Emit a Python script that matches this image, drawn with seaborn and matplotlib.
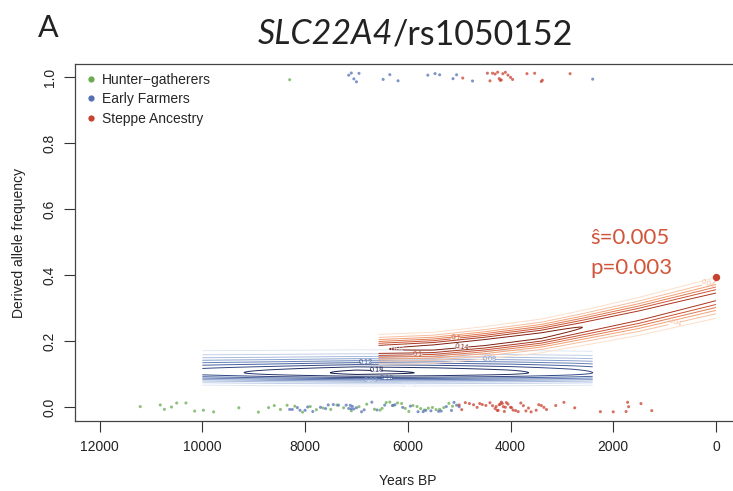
import numpy as np
import pandas as pd
import matplotlib
matplotlib.use("Agg")
import matplotlib.pyplot as plt
import seaborn as sns
from matplotlib.colors import LinearSegmentedColormap, Normalize
from matplotlib.lines import Line2D

# ---------------- sample data (years BP, derived allele 0/1) ----------------
hg_bottom = [11210, 10820, 10740, 10600, 10500, 10320, 10150, 9980, 9780,
             9290, 8910, 8710, 8600, 8480, 8350, 8200, 8050, 7900, 7780, 7650,
             7500, 7380, 7250, 7100, 6950, 6800, 6650, 6540, 6500, 6420, 6350,
             6280, 6200, 6120, 6050, 5980, 5900, 5820, 5750, 5680, 5600, 5520,
             5450, 5380, 5300, 5200, 5130]
ef_bottom = [8300, 8250, 8150, 8100, 8000, 7950, 7850, 7700, 7600, 7550,
             7450, 7350, 7200, 7150, 7120, 7100, 7080, 7050, 7000, 6900, 6850,
             6700, 6600, 6450, 6300, 6250, 6100, 5950, 5800, 5700, 5650, 5550,
             5400, 5350, 5250, 5150, 5100, 5050, 5000]
st_bottom = [5000, 4950, 4880, 4800, 4720, 4650, 4600, 4550, 4480, 4400,
             4350, 4300, 4280, 4260, 4240, 4220, 4200, 4180, 4160, 4140, 4120,
             4100, 4080, 4050, 4000, 3980, 3950, 3900, 3850, 3800, 3750, 3700,
             3650, 3600, 3500, 3450, 3400, 3350, 3300, 3120, 2960, 2750, 2250,
             2000, 1750, 1720, 1700, 1460, 1250]
hg_top = [8300]
ef_top = [7150, 7100, 7050, 7000, 6950, 6480, 6350, 6190, 5610, 5470, 5380,
          5120, 5050, 4740, 2400]
st_top = [4930, 4450, 4400, 4350, 4300, 4250, 4220, 4200, 4180, 4150, 4100,
          4050, 4000, 3960, 3680, 3530, 3400, 3380, 2840]

groups = ["Hunter\u2212gatherers", "Early Farmers", "Steppe Ancestry"]
colors = ["#6aab4f", "#5470b5", "#c9412f"]

# present-day frequency
present_year = [0]
present_freq = [0.395]

# ---------------- posterior density surfaces (anchors) -----
ef_t = [2400, 2800, 4000, 5500, 7000, 8700, 10000]
ef_peak = [0.140, 0.148, 0.165, 0.178, 0.186, 0.166, 0.150]
ef_mean = [0.104, 0.104, 0.104, 0.104, 0.104, 0.104, 0.105]
ef_sd_up = [0.033, 0.033, 0.033, 0.033, 0.033, 0.033, 0.033]
ef_sd_dn = [0.019, 0.019, 0.019, 0.019, 0.019, 0.019, 0.019]

st_t = [0, 1500, 2600, 3400, 4500, 5500, 6570]
st_peak = [0.128, 0.135, 0.140, 0.148, 0.150, 0.148, 0.138]
st_mean = [0.335, 0.278, 0.242, 0.217, 0.196, 0.181, 0.175]
st_sd_up = [0.030, 0.028, 0.026, 0.025, 0.024, 0.023, 0.023]
st_sd_dn = [0.034, 0.031, 0.028, 0.026, 0.025, 0.024, 0.023]

levels = [0.02, 0.04, 0.06, 0.08, 0.10, 0.12, 0.14, 0.16, 0.18]
ef_label_levels = [0.02, 0.08, 0.12, 0.18]
st_label_levels = [0.04, 0.1, 0.14]

sns.set_theme(style="white")
plt.rcParams["font.family"] = ["Liberation Sans", "DejaVu Sans"]

fig = plt.figure(figsize=(7.33, 4.91), dpi=100)
ax = fig.add_axes([75 / 733, 1 - 421 / 491, (740.6 - 75) / 733, (421 - 64) / 491])


def surface(t, peak, mean, sdu, sdd):
    tg = np.linspace(min(t), max(t), 400)
    yg = np.linspace(0.0, 0.6, 600)
    T, Y = np.meshgrid(tg, yg)
    A = np.interp(T, t, peak)
    M = np.interp(T, t, mean)
    SU = np.interp(T, t, sdu)
    SD = np.interp(T, t, sdd)
    S = np.where(Y >= M, SU, SD)
    Z = A * np.exp(-0.5 * ((Y - M) / S) ** 2)
    return T, Y, Z


blue_cmap = LinearSegmentedColormap.from_list("b", ["#dfe7f5", "#94abd6", "#3a5697", "#121c4c"])
red_cmap = LinearSegmentedColormap.from_list("r", ["#fcdfcb", "#f09a6c", "#c54526", "#6a1208"])

T, Y, Z = surface(ef_t, ef_peak, ef_mean, ef_sd_up, ef_sd_dn)
cs_b = ax.contour(T, Y, Z, levels=levels, cmap=blue_cmap,
                  norm=Normalize(0.02, 0.18), linewidths=0.7, zorder=2)
ax.clabel(cs_b, levels=ef_label_levels, inline=True, fontsize=5.2, fmt="%g",
          inline_spacing=1)

T, Y, Z = surface(st_t, st_peak, st_mean, st_sd_up, st_sd_dn)
cs_r = ax.contour(T, Y, Z, levels=levels, cmap=red_cmap,
                  norm=Normalize(0.02, 0.15), linewidths=0.7, zorder=2)
ax.clabel(cs_r, levels=st_label_levels, inline=True, fontsize=5.2, fmt="%g",
          inline_spacing=1)

# ---------------- sample points ----------------
rows = []
for g, bot, top in zip(groups, [hg_bottom, ef_bottom, st_bottom], [hg_top, ef_top, st_top]):
    rows += [(yr, 0.0, g) for yr in bot]
    rows += [(yr, 1.0, g) for yr in top]
df = pd.DataFrame(rows, columns=["year", "allele", "group"])

np.random.seed(3)
sns.stripplot(data=df, x="year", y="allele", hue="group", hue_order=groups,
              palette=colors, orient="h", native_scale=True, jitter=0.016,
              size=2.2, alpha=0.75, linewidth=0, legend=False, ax=ax, zorder=3)

ax.scatter(present_year, present_freq, s=28, color=colors[2], zorder=4, linewidths=0)

ax.text(2450, 0.514, "\u015d=0.005", color="#d2553a", fontsize=16,
        family=["Lato", "DejaVu Sans"], va="center", ha="left")
ax.text(2450, 0.423, "p=0.003", color="#d2553a", fontsize=16,
        family=["Lato", "DejaVu Sans"], va="center", ha="left")

# ---------------- axes ----------------
ax.set_xlim(12480, -480)
ax.set_ylim(-0.042, 1.04)
ax.set_xticks([12000, 10000, 8000, 6000, 4000, 2000, 0])
ax.set_xticklabels(["12000", "10000", "8000", "6000", "4000", "2000", "0"])
ax.set_yticks([0.0, 0.2, 0.4, 0.6, 0.8, 1.0])
ax.set_yticklabels(["0.0", "0.2", "0.4", "0.6", "0.8", "1.0"], rotation=90, va="center")
ax.tick_params(axis="both", direction="out", length=8, width=0.8, colors="#333333",
               labelsize=10, labelcolor="#222222", bottom=True, left=True)
ax.tick_params(axis="x", pad=6)
ax.tick_params(axis="y", pad=5)
for sp in ax.spines.values():
    sp.set_visible(True)
    sp.set_color("#444444")
    sp.set_linewidth(0.9)
ax.set_xlabel("Years BP", fontsize=10, color="#222222", labelpad=14)
ax.set_ylabel("Derived allele frequency", fontsize=10, color="#222222", labelpad=12)

handles = [Line2D([], [], marker="o", ls="", ms=4.5, color=c, markeredgewidth=0)
           for c in colors]
ax.legend(handles, groups, loc="upper left", frameon=False, fontsize=10,
          handletextpad=0.3, handlelength=1.0, labelspacing=0.38,
          borderaxespad=0.45, borderpad=0.2)

# ---------------- titles ----------------
title_fam = ["Lato", "DejaVu Sans"]
fig.text(393 / 733, 1 - 44 / 491, "SLC22A4", fontsize=24.5, style="italic",
         family=title_fam, ha="right", va="baseline", color="#222222")
fig.text(393 / 733, 1 - 44 / 491, "/rs1050152", fontsize=24.5,
         family=title_fam, ha="left", va="baseline", color="#222222")
fig.text(38 / 733, 1 - 37 / 491, "A", fontsize=22, family=title_fam,
         ha="left", va="baseline", color="#222222")

fig.savefig("out.png", dpi=100)
